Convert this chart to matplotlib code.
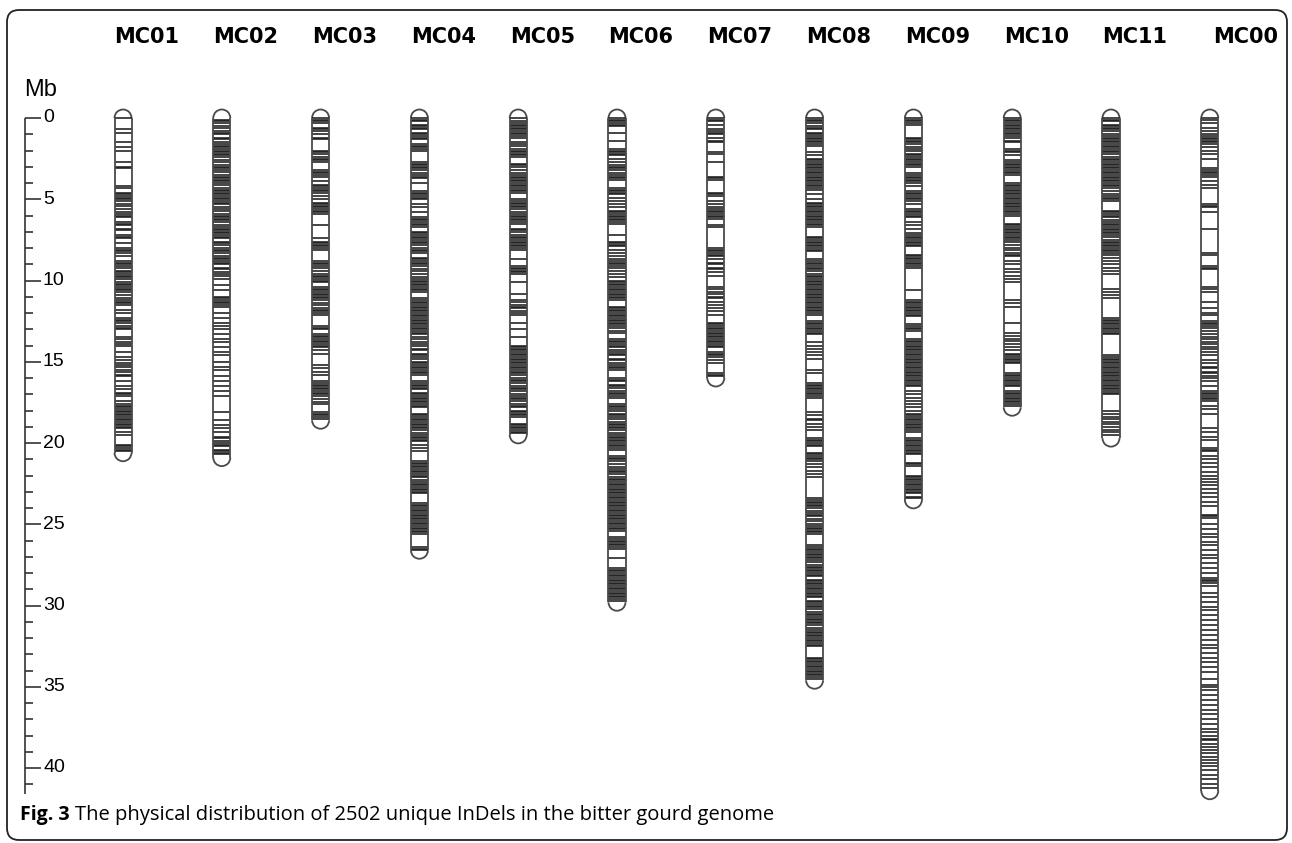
import matplotlib.pyplot as plt
from matplotlib.patches import Arc, FancyBboxPatch

# chromosome names and lengths (Mb)
chrom_names = ["MC01", "MC02", "MC03", "MC04", "MC05", "MC06",
               "MC07", "MC08", "MC09", "MC10", "MC11", "MC00"]
chrom_lengths = [20.6, 20.9, 18.6, 26.6, 19.5, 29.8, 16.0, 34.6, 23.5, 17.8, 19.7, 41.4]

# InDel positions (Mb) on each chromosome
mc01 = [0.0, 0.7, 0.9, 1.5, 1.8, 2.0, 2.7, 3.0, 3.1, 4.2, 4.3,
        4.6, 4.7, 4.8, 4.9, 5.0, 5.1, 5.3, 5.4, 5.6, 5.8, 5.9, 6.0, 6.1,
        6.4, 6.5, 6.6, 6.8, 6.9, 7.2, 7.3, 7.4, 7.7, 8.0, 8.1, 8.2, 8.3, 8.5,
        8.8, 8.9, 9.0, 9.1, 9.2, 9.4, 9.5, 9.6, 9.7, 9.8, 9.9, 10.1,
        10.2, 10.3, 10.4, 10.5, 10.6, 10.7, 10.9, 11.1, 11.2, 11.3, 11.4, 11.5,
        11.8, 12.0, 12.3, 12.4, 12.5, 12.6, 12.8, 12.9, 13.0,
        13.5, 13.6, 13.8, 13.9, 14.0, 14.4, 14.7, 14.9,
        15.1, 15.2, 15.3, 15.5, 15.6, 15.8, 15.9, 16.2, 16.5, 16.7,
        16.9, 17.0, 17.1, 17.4, 17.6, 17.7, 17.8, 17.9, 18.0, 18.1, 18.2, 18.3,
        18.4, 18.5, 18.6, 18.7, 18.8, 18.9, 19.0, 19.1, 19.3, 19.5,
        20.1, 20.2, 20.3, 20.4, 20.5]
mc02 = [0.1, 0.2, 0.3, 0.5, 0.6, 0.8, 0.9, 1.0, 1.2, 1.3, 1.5, 1.6, 1.7, 1.8,
        1.9, 2.0, 2.1, 2.2, 2.3, 2.4, 2.6, 2.7, 2.9, 3.0, 3.1, 3.2, 3.3, 3.5,
        3.6, 3.7, 3.8, 3.9, 4.0, 4.1, 4.3, 4.4, 4.5, 4.6, 4.7, 4.8, 4.9, 5.0,
        5.1, 5.2, 5.3, 5.5, 5.6, 5.7, 5.9, 6.0, 6.1, 6.2, 6.3, 6.4, 6.6, 6.7,
        6.8, 6.9, 7.0, 7.1, 7.2, 7.3, 7.4, 7.6, 7.7, 7.8, 8.0, 8.1, 8.2, 8.3,
        8.5, 8.6, 8.7, 8.8, 8.9, 9.0, 9.2, 9.3, 9.5, 9.6, 9.7, 9.9,
        10.3, 10.6, 11.0, 11.1, 11.2, 11.3, 11.4, 11.5, 11.6,
        12.0, 12.3, 12.6, 12.8, 13.0, 13.3, 13.6, 13.8, 14.1, 14.4, 14.6, 15.0,
        15.3, 15.5, 15.9, 16.2, 16.5, 16.8, 17.1, 18.1, 18.6, 18.9, 19.1, 19.3,
        19.6, 19.7, 19.9, 20.0, 20.1, 20.2, 20.4, 20.5, 20.6, 20.7]
mc03 = [0.0, 0.1, 0.2, 0.3, 0.6, 0.7, 0.8, 1.0, 1.2, 1.3, 2.0, 2.1, 2.2, 2.4,
        2.5, 2.6, 2.7, 3.2, 3.3, 3.4, 3.5, 3.6, 3.9, 4.1, 4.2, 4.3, 4.4, 4.5,
        4.6, 4.8, 5.0, 5.2, 5.3, 5.4, 5.5, 5.6, 5.7, 5.8, 5.9, 6.6, 7.4, 7.6,
        7.7, 7.8, 7.9, 8.0, 8.1, 8.8, 8.9, 9.0, 9.1, 9.2, 9.4, 9.6, 9.7, 9.8,
        9.9, 10.0, 10.1, 10.4, 10.5, 10.6, 10.7, 10.8, 10.9, 11.0, 11.1, 11.2,
        11.4, 11.5, 11.7, 11.8, 11.9, 12.0, 12.1, 12.8, 12.9, 13.0, 13.3, 13.4,
        13.5, 13.6, 13.7, 13.8, 13.9, 14.0, 14.1, 14.3, 14.5, 15.2, 15.4, 15.6,
        15.8, 16.2, 16.3, 16.4, 16.5, 16.6, 16.7, 16.8, 16.9, 17.0, 17.1, 17.3,
        17.5, 17.6, 18.1, 18.2, 18.3, 18.4, 18.5]
mc04 = [0.0, 0.1, 0.2, 0.4, 0.5, 0.6, 0.7, 0.9, 1.0, 1.1, 1.2, 1.3, 1.6, 1.7,
        1.8, 1.9, 2.0, 2.7, 2.8, 2.9, 3.0, 3.1, 3.2, 3.4, 3.5, 3.6, 3.7, 4.0,
        4.5, 4.6, 4.7, 4.8, 4.9, 5.0, 5.3, 5.5, 5.8, 6.1, 6.2, 6.3, 6.4, 6.5,
        6.6, 6.7, 7.0, 7.1, 7.2, 7.3, 7.4, 7.5, 7.6, 7.7, 7.8, 8.0, 8.1, 8.2,
        8.3, 8.6, 8.7, 8.8, 8.9, 9.0, 9.1, 9.3, 9.4, 9.6, 9.8, 9.9, 10.0, 10.1,
        10.2, 10.3, 10.4, 10.5, 10.6, 10.7, 11.1, 11.2, 11.3, 11.4, 11.5, 11.6,
        11.7, 11.8, 11.9, 12.0, 12.1, 12.2, 12.3, 12.4, 12.5, 12.6, 12.7, 12.8,
        12.9, 13.0, 13.1, 13.2, 13.3, 13.5, 13.6, 13.8, 13.9, 14.0, 14.2, 14.3,
        14.5, 14.6, 14.7, 14.8, 15.0, 15.1, 15.2, 15.3, 15.4, 15.5, 15.6, 15.7,
        15.8, 16.2, 16.3, 16.4, 16.5, 16.6, 16.7, 16.9, 17.0, 17.1, 17.2, 17.3,
        17.4, 17.5, 17.6, 17.7, 17.8, 18.2, 18.3, 18.4, 18.5, 18.6, 18.7, 18.8,
        18.9, 19.0, 19.1, 19.2, 19.4, 19.5, 19.6, 19.7, 19.8, 19.9, 20.1, 20.3,
        20.5, 21.1, 21.2, 21.3, 21.4, 21.5, 21.6, 21.7, 21.8, 21.9, 22.0, 22.1,
        22.3, 22.4, 22.5, 22.6, 22.7, 22.8, 22.9, 23.0, 23.1, 23.7, 23.8, 23.9,
        24.0, 24.1, 24.2, 24.3, 24.4, 24.5, 24.6, 24.7, 24.8, 24.9, 25.0, 25.1,
        25.2, 25.3, 25.4, 25.5, 25.6, 26.4, 26.5, 26.6]
mc05 = [0.0, 0.2, 0.3, 0.4, 0.5, 0.6, 0.7, 0.8, 0.9, 1.0, 1.1, 1.2, 1.5, 1.6,
        1.7, 1.9, 2.0, 2.1, 2.2, 2.3, 2.4, 2.8, 2.9, 3.0, 3.2, 3.4, 3.5, 3.6,
        3.7, 3.8, 3.9, 4.0, 4.1, 4.2, 4.3, 4.4, 4.5, 4.6, 5.0, 5.1, 5.2, 5.3,
        5.4, 5.5, 5.6, 5.8, 5.9, 6.0, 6.1, 6.2, 6.3, 6.4, 6.5, 6.8, 6.9, 7.0,
        7.2, 7.3, 7.4, 7.5, 7.6, 7.7, 7.8, 7.9, 8.0, 8.1, 8.7, 9.1, 9.2, 9.3,
        9.4, 9.5, 9.6, 10.1, 10.8, 11.2, 11.3, 11.5, 11.6, 11.7, 11.9, 12.0,
        12.1, 12.6, 13.0, 13.5, 14.0, 14.1, 14.2, 14.3, 14.4, 14.5, 14.6, 14.7,
        14.8, 14.9, 15.0, 15.1, 15.2, 15.3, 15.4, 15.5, 15.6, 15.7, 15.8, 16.0,
        16.1, 16.2, 16.3, 16.5, 16.6, 16.7, 16.8, 17.0, 17.1, 17.2, 17.3, 17.4,
        17.6, 17.7, 17.8, 18.0, 18.1, 18.2, 18.3, 18.4, 18.8, 18.9, 19.0, 19.1,
        19.2, 19.3, 19.4]
mc06 = [0.0, 0.1, 0.2, 0.3, 0.4, 0.5, 0.9, 1.4, 1.9, 2.0, 2.1, 2.2, 2.3, 2.5,
        2.7, 2.9, 3.0, 3.1, 3.2, 3.4, 3.5, 3.6, 3.7, 3.8, 4.3, 4.4, 4.5, 4.6,
        4.7, 4.9, 5.1, 5.3, 5.5, 5.7, 5.8, 5.9, 6.0, 6.1, 6.2, 6.3, 6.4, 6.5,
        7.2, 7.6, 7.7, 7.8, 7.9, 8.1, 8.3, 8.5, 8.7, 8.8, 8.9, 9.0, 9.1, 9.2,
        9.4, 9.6, 9.8, 10.0, 10.1, 10.2, 10.3, 10.4, 10.5, 10.6, 10.7, 10.8,
        10.9, 11.0, 11.1, 11.2, 11.6, 11.7, 11.8, 11.9, 12.0, 12.1, 12.2, 12.3,
        12.4, 12.5, 12.6, 12.7, 12.8, 12.9, 13.1, 13.2, 13.6, 13.7, 13.8, 13.9,
        14.0, 14.1, 14.3, 14.4, 14.5, 14.6, 14.8, 14.9, 15.1, 15.2, 15.3, 15.4,
        15.5, 16.0, 16.1, 16.2, 16.4, 16.5, 16.6, 16.8, 16.9, 17.0, 17.1, 17.2,
        17.6, 17.7, 17.8, 17.9, 18.0, 18.2, 18.3, 18.4, 18.5, 18.7, 18.8, 18.9,
        19.0, 19.1, 19.2, 19.4, 19.5, 19.6, 19.7, 19.8, 19.9, 20.0, 20.1, 20.2,
        20.3, 20.4, 20.8, 20.9, 21.0, 21.1, 21.3, 21.5, 21.6, 21.7, 21.8, 21.9,
        22.1, 22.2, 22.3, 22.4, 22.5, 22.6, 22.7, 22.8, 22.9, 23.0, 23.1, 23.2,
        23.3, 23.4, 23.5, 23.6, 23.7, 23.8, 23.9, 24.0, 24.1, 24.2, 24.3, 24.4,
        24.5, 24.6, 24.7, 24.8, 24.9, 25.0, 25.1, 25.2, 25.3, 25.4, 25.8, 25.9,
        26.0, 26.1, 26.2, 26.3, 26.4, 26.5, 27.1, 27.7, 27.8, 27.9, 28.0, 28.1,
        28.2, 28.3, 28.4, 28.5, 28.6, 28.7, 28.8, 28.9, 29.0, 29.1, 29.2, 29.3,
        29.4, 29.5, 29.6, 29.7]
mc07 = [0.0, 0.1, 0.2, 0.4, 0.7, 0.8, 0.9, 1.0, 1.2, 1.4, 1.5, 2.1, 2.2, 2.7,
        3.6, 3.7, 3.8, 4.6, 4.7, 4.8, 5.1, 5.3, 5.5, 5.6, 5.7, 5.8, 5.9, 6.0,
        6.1, 6.2, 6.6, 6.7, 8.0, 8.1, 8.2, 8.3, 8.4, 8.5, 8.7, 8.9, 9.0, 9.2,
        9.3, 9.5, 9.7, 10.4, 10.5, 10.7, 10.8, 11.0, 11.1, 11.3, 11.5, 11.7,
        11.9, 12.1, 12.6, 12.7, 12.8, 12.9, 13.0, 13.1, 13.2, 13.3, 13.4, 13.5,
        13.6, 13.7, 13.8, 13.9, 14.0, 14.1, 14.4, 14.5, 14.6, 14.7, 14.9, 15.1,
        15.7, 15.8, 15.9]
mc08 = [0.0, 0.1, 0.2, 0.3, 0.5, 0.6, 0.7, 0.9, 1.0, 1.1, 1.2, 1.3, 1.4, 1.5,
        1.6, 1.7, 2.1, 2.3, 2.5, 2.6, 2.7, 2.8, 2.9, 3.0, 3.1, 3.2, 3.3, 3.4,
        3.5, 3.6, 3.7, 3.8, 3.9, 4.0, 4.1, 4.2, 4.3, 4.4, 4.7, 5.0, 5.2, 5.3,
        5.4, 5.5, 5.6, 5.7, 5.8, 5.9, 6.0, 6.1, 6.2, 6.3, 6.4, 6.5, 6.6, 6.7,
        7.3, 7.4, 7.5, 7.6, 7.7, 7.8, 7.9, 8.0, 8.1, 8.2, 8.7, 8.8, 8.9, 9.0,
        9.1, 9.2, 9.3, 9.4, 9.6, 9.7, 9.8, 9.9, 10.0, 10.1, 10.2, 10.3, 10.4,
        10.5, 10.6, 10.7, 10.8, 10.9, 11.0, 11.1, 11.2, 11.3, 11.4, 11.5, 11.6,
        11.7, 11.8, 11.9, 12.0, 12.1, 12.5, 12.6, 12.7, 12.8, 12.9, 13.0, 13.1,
        13.2, 13.3, 13.8, 14.0, 14.2, 14.4, 14.6, 14.8, 15.5, 15.7, 16.3, 16.4,
        16.5, 16.6, 16.7, 16.8, 16.9, 17.0, 17.1, 17.2, 18.1, 18.3, 18.5, 18.6,
        18.8, 19.0, 19.2, 19.7, 19.8, 19.9, 20.0, 20.1, 20.2, 20.6, 20.7, 20.8,
        20.9, 21.0, 21.1, 21.3, 21.5, 21.7, 21.9, 22.1, 23.4, 23.5, 23.6, 23.7,
        23.8, 23.9, 24.0, 24.2, 24.3, 24.4, 24.5, 24.7, 24.8, 25.0, 25.1, 25.2,
        25.3, 25.4, 25.5, 25.6, 26.3, 26.4, 26.5, 26.6, 26.7, 26.8, 26.9, 27.0,
        27.1, 27.2, 27.3, 27.5, 27.6, 27.7, 27.8, 27.9, 28.0, 28.1, 28.2, 28.4,
        28.5, 28.6, 28.7, 28.8, 28.9, 29.0, 29.1, 29.2, 29.3, 29.4, 29.5, 29.7,
        29.8, 29.9, 30.0, 30.1, 30.2, 30.4, 30.5, 30.6, 30.7, 30.8, 30.9, 31.0,
        31.1, 31.2, 31.4, 31.5, 31.6, 31.7, 31.8, 31.9, 32.0, 32.1, 32.2, 32.3,
        32.4, 32.5, 33.2, 33.3, 33.4, 33.5, 33.6, 33.7, 33.8, 33.9, 34.0, 34.1,
        34.2, 34.3, 34.4, 34.5]
mc09 = [0.0, 0.1, 0.2, 0.3, 0.4, 1.2, 1.3, 1.4, 1.5, 1.6, 1.8, 1.9, 2.0, 2.2,
        2.3, 2.4, 2.5, 2.6, 2.7, 2.8, 2.9, 3.0, 3.4, 3.5, 3.6, 3.7, 3.8, 3.9,
        4.0, 4.2, 4.5, 4.6, 4.7, 4.8, 4.9, 5.0, 5.1, 5.3, 5.6, 5.7, 5.8, 5.9,
        6.0, 6.1, 6.4, 6.6, 6.8, 7.1, 7.2, 7.3, 7.4, 7.5, 7.6, 7.7, 7.8, 7.9,
        8.4, 8.5, 8.6, 8.7, 8.8, 8.9, 9.0, 9.1, 9.2, 10.6, 11.2, 11.3, 11.4,
        11.5, 11.6, 11.7, 11.8, 11.9, 12.0, 12.1, 12.2, 12.7, 12.8, 12.9, 13.0,
        13.1, 13.6, 13.7, 13.8, 13.9, 14.0, 14.1, 14.2, 14.3, 14.4, 14.5, 14.6,
        14.7, 14.8, 14.9, 15.0, 15.1, 15.2, 15.3, 15.4, 15.5, 15.6, 15.7, 15.8,
        15.9, 16.0, 16.1, 16.2, 16.3, 16.4, 16.5, 16.8, 17.0, 17.2, 17.4, 17.6,
        17.8, 18.0, 18.2, 18.3, 18.4, 18.5, 18.6, 18.7, 18.8, 18.9, 19.0, 19.1,
        19.2, 19.3, 19.7, 19.8, 19.9, 20.0, 20.1, 20.2, 20.3, 20.4, 20.5, 20.6,
        20.7, 21.2, 21.3, 21.4, 22.0, 22.1, 22.2, 22.3, 22.4, 22.5, 22.6, 22.7,
        22.8, 22.9, 23.0, 23.1, 23.3, 23.4]
mc10 = [0.0, 0.1, 0.2, 0.3, 0.4, 0.5, 0.6, 0.7, 0.8, 0.9, 1.0, 1.1, 1.2, 1.4,
        1.5, 1.9, 2.0, 2.1, 2.3, 2.6, 2.7, 2.8, 2.9, 3.0, 3.1, 3.2, 3.3, 3.4,
        3.5, 4.0, 4.1, 4.2, 4.3, 4.4, 4.5, 4.6, 4.7, 4.8, 4.9, 5.0, 5.1, 5.2,
        5.3, 5.4, 5.5, 5.6, 5.7, 5.8, 5.9, 6.0, 6.5, 6.6, 6.7, 6.8, 6.9, 7.0,
        7.1, 7.2, 7.3, 7.4, 7.5, 7.6, 7.8, 8.0, 8.1, 8.3, 8.4, 8.5, 8.8, 9.0,
        9.3, 9.5, 9.7, 9.9, 10.1, 11.2, 11.4, 11.6, 12.6, 13.2, 13.4, 13.6,
        13.7, 13.9, 14.1, 14.3, 14.5, 14.6, 14.7, 14.8, 14.9, 15.0, 15.1, 15.7,
        15.8, 15.9, 16.0, 16.1, 16.2, 16.3, 16.4, 16.5, 16.8, 16.9, 17.0, 17.1,
        17.2, 17.3, 17.4, 17.5, 17.6, 17.7]
mc11 = [0.0, 0.1, 0.2, 0.4, 0.5, 0.6, 0.7, 0.8, 1.0, 1.1, 1.2, 1.3, 1.4, 1.5,
        1.6, 1.7, 1.8, 1.9, 2.0, 2.1, 2.2, 2.4, 2.5, 2.6, 2.7, 2.8, 2.9, 3.0,
        3.1, 3.2, 3.3, 3.4, 3.5, 3.6, 3.7, 3.8, 3.9, 4.0, 4.1, 4.2, 4.3, 4.5,
        4.7, 4.8, 4.9, 5.0, 5.1, 5.7, 5.8, 5.9, 6.0, 6.1, 6.3, 6.4, 6.5, 6.6,
        6.7, 6.8, 6.9, 7.0, 7.1, 7.2, 7.3, 7.5, 7.6, 7.7, 7.8, 7.9, 8.0, 8.1,
        8.2, 8.3, 8.4, 8.6, 8.8, 9.0, 9.2, 9.4, 9.6, 10.5, 10.7, 10.9, 11.1,
        12.3, 12.4, 12.5, 12.6, 12.7, 12.8, 12.9, 13.0, 13.1, 13.2, 13.3, 14.6,
        14.7, 14.8, 14.9, 15.0, 15.1, 15.2, 15.3, 15.4, 15.5, 15.6, 15.7, 15.8,
        15.9, 16.0, 16.1, 16.2, 16.3, 16.4, 16.5, 16.6, 16.7, 16.8, 16.9, 17.0,
        18.0, 18.2, 18.4, 18.5, 18.7, 18.8, 19.0, 19.2, 19.3, 19.5]
mc00 = [0.0, 0.1, 0.3, 0.6, 0.8, 1.0, 1.1, 1.2, 1.3, 1.4, 1.5, 1.6, 1.8, 2.0,
        2.2, 2.5, 3.1, 3.2, 3.3, 3.4, 3.5, 3.6, 3.9, 4.1, 4.3, 5.3, 5.4, 5.5,
        5.8, 6.8, 8.3, 8.4, 9.1, 9.2, 9.3, 10.4, 10.5, 10.7, 11.3, 11.7, 12.0,
        12.1, 12.5, 12.6, 12.7, 12.8, 12.9, 13.1, 13.3, 13.5, 13.6, 13.8, 13.9,
        14.1, 14.2, 14.4, 14.6, 14.9, 15.1, 15.3, 15.4, 15.6, 15.7, 15.9, 16.0,
        16.2, 16.5, 16.8, 16.9, 17.0, 17.1, 17.2, 17.3, 17.4, 17.7, 17.9, 18.2,
        19.1, 19.3, 19.6, 19.8, 20.3, 20.4, 20.5, 20.8, 21.0, 21.2, 21.5, 21.8,
        22.0, 22.2, 22.4, 22.6, 22.8, 23.1, 23.3, 23.6, 23.9, 24.4, 24.5, 24.6,
        25.0, 25.3, 25.6, 25.8, 26.1, 26.3, 26.6, 26.9, 27.1, 27.4, 27.7, 28.0,
        28.3, 28.4, 28.5, 28.6, 28.8, 29.2, 29.5, 29.8, 30.1, 30.3, 30.6, 30.9,
        31.2, 31.5, 31.8, 32.1, 32.4, 32.6, 32.9, 33.2, 33.5, 33.8, 34.1, 34.5,
        34.9, 35.0, 35.2, 35.5, 35.8, 36.1, 36.4, 36.7, 37.0, 37.3, 37.6, 37.8,
        38.0, 38.2, 38.3, 38.5, 38.7, 38.9, 39.1, 39.3, 39.5, 39.7, 39.9, 40.1,
        40.4, 40.7, 41.0, 41.2]
positions = [mc01, mc02, mc03, mc04, mc05, mc06, mc07, mc08, mc09, mc10, mc11, mc00]

scale_ticks = list(range(0, 42))
scale_labels = [0, 5, 10, 15, 20, 25, 30, 35, 40]
caption_bold = "Fig. 3"
caption_text = "The physical distribution of 2502 unique InDels in the bitter gourd genome"

# page geometry (pixels)
W, H = 1292, 843
X0, DX = 123, 98.8        # first chromosome centre, spacing
Y0, PX_MB = 118, 16.25    # 0 Mb row, pixels per Mb
# the last (unanchored) group label sits a little further right
label_shift = [0] * 11 + [12]

fig = plt.figure(figsize=(W / 100, H / 100), dpi=100)

# background frame in pixel units
bg = fig.add_axes([0, 0, 1, 1], zorder=0)
bg.set_xlim(0, W)
bg.set_ylim(H, 0)
bg.axis("off")
bg.add_patch(FancyBboxPatch((7, 10), 1280, 830,
                            boxstyle="round,pad=0,rounding_size=12",
                            fc="white", ec="#222222", lw=1.3))

# main axes: x = chromosome index, y = Mb (downwards)
ax = fig.add_axes([0, 0, 1, 1], zorder=1)
ax.patch.set_alpha(0)
ax.set_xlim(-X0 / DX, (W - X0) / DX)
ax.set_ylim((H - Y0) / PX_MB, -Y0 / PX_MB)
ax.axis("off")

hw = 8.5 / DX          # half width of a chromosome in x units
ry = 8.5 / PX_MB       # cap radius in Mb units
outline = "#4a4a4a"

for i, (name, length, pos) in enumerate(zip(chrom_names, chrom_lengths, positions)):
    ax.hlines(pos, i - hw, i + hw, color="#1c1c1c", lw=1.15)
    ax.vlines([i - hw, i + hw], 0, length, color=outline, lw=1.3)
    ax.add_patch(Arc((i, 0), 2 * hw, 2 * ry, theta1=180, theta2=360,
                     color=outline, lw=1.3))
    ax.add_patch(Arc((i, length), 2 * hw, 2 * ry, theta1=0, theta2=180,
                     color=outline, lw=1.3))
    ax.text(i - hw + label_shift[i] / DX, (37 - Y0) / PX_MB, name,
            ha="left", va="center", fontsize=15, fontweight="bold",
            family="DejaVu Sans")

# Mb scale bar on the left
sx = (25 - X0) / DX
ax.vlines(sx, 0, 41.6, color="#333333", lw=1.2)
for t in scale_ticks:
    tick_len = 16 if t % 5 == 0 else 8
    ax.hlines(t, sx, sx + tick_len / DX, color="#333333", lw=1.2)
for t in scale_labels:
    ax.text(sx + 18 / DX, t, str(t), ha="left", va="center", fontsize=14,
            family="Liberation Sans")
ax.text((24 - X0) / DX, (90 - Y0) / PX_MB, "Mb", ha="left", va="center",
        fontsize=17, family="Liberation Sans")

# caption with bold figure number
cap_y = 1 - 815 / H
t1 = fig.text(20 / W, cap_y, caption_bold, ha="left", va="center",
              fontsize=14, fontweight="bold", family="Open Sans")
fig.canvas.draw()
bb = t1.get_window_extent()
fig.text((bb.x1 + 5) / W, cap_y, caption_text, ha="left", va="center",
         fontsize=14.5, family="Open Sans")

fig.savefig("out.png", dpi=100)
